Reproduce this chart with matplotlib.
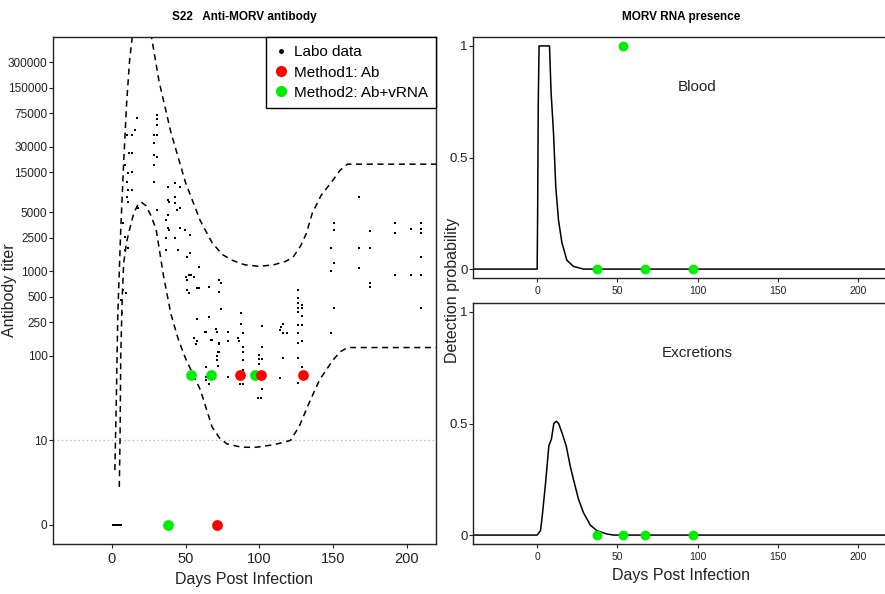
import numpy as np
import matplotlib
matplotlib.use("Agg")
import matplotlib.pyplot as plt
from matplotlib.lines import Line2D

plt.rcParams['font.family'] = ['Liberation Sans', 'DejaVu Sans']

# %%
# Antibody titers (day post infection, titer)
labo_day = [17, 30.5, 30.5, 30.5, 28.5, 30.5, 28.5, 28.5, 30.5, 28.5, 28.5, 10, 13.5, 15.5, 11.5, 13.5,
            9, 11, 13.5, 10, 11, 13.5, 10, 11, 17, 18, 7.5, 9, 9, 11, 7.5, 9.5, 7, 6,
            38, 43, 46, 38, 39, 43, 43, 46, 44, 30.5, 38, 36.5, 38, 39, 46, 49.5, 53, 36.5, 43,
            36.5, 45, 51, 53, 59, 50, 52, 56, 51, 73, 73, 66, 59, 51, 52, 126,
            168, 150.5, 150.5, 192, 203, 210, 210, 210, 192, 175.5, 148.5, 168, 175.5, 210,
            150.5, 148.5, 168, 192, 203, 210, 175.5, 175.5, 150.5, 210,
            126, 126, 129, 126, 129, 126, 129, 126, 129, 126, 126, 129, 126, 129, 126, 148.5,
            116, 116, 119, 114, 115, 116, 114,
            54, 74, 58, 74, 57.5, 66, 87.5, 87.5, 102, 64, 70.5, 71, 78.5, 78.5, 89, 57.5, 56, 57,
            67, 68, 73, 85.5, 86, 89, 102, 73, 89, 100, 100, 102, 71, 71, 64, 100, 78.5, 89.5,
            102, 99, 64, 64, 66, 87, 89, 63, 72, 72.5, 72, 89, 89, 101,
            1, 2, 3, 4, 5, 6]
labo_titer = [66000, 71000, 63700, 54000, 41000, 41000, 33000, 24000, 22700, 18300, 11500, 41000, 41000,
              47000, 25400, 25400, 18300, 14700, 15000, 11500, 9200, 9200, 7600, 6600, 5800, 5600, 3740,
              2560, 1800, 1900, 600, 555, 325, 460,
              10000, 11100, 10000, 7000, 6600, 7600, 6450, 5600, 5350, 5350, 4700, 4060, 3260, 3100, 3260,
              3100, 2700, 2500, 2500, 1800, 1800, 1480, 1660, 1130, 860, 910, 860, 790, 790, 575, 660,
              640, 600, 555, 600,
              7600, 3740, 3100, 3740, 3180, 3740, 3180, 2850, 2850, 3020, 1900, 1900, 1900, 1480,
              1260, 1020, 1100, 910, 910, 910, 730, 660, 370, 370,
              485, 425, 400, 370, 370, 330, 295, 233, 233, 187, 142, 150, 95, 74, 48, 187,
              240, 187, 187, 204, 220, 95, 55,
              910, 730, 640, 360, 275, 290, 325, 240, 226, 193, 209, 193, 193, 150, 187, 150, 163, 139,
              155, 155, 139, 163, 150, 128, 128, 112, 112, 103, 92, 92, 100, 89, 74, 80, 56, 56,
              41, 32, 56, 52, 47, 47, 47, 193, 112, 142, 77, 89, 68, 32,
              0, 0, 0, 0, 0, 0]

m1_day = [87, 101, 130, 71]
m1_titer = [60, 60, 60, 0]
m2_day = [53.5, 67, 97, 38]
m2_titer = [60, 60, 60, 0]

# envelope of the model (log10 titer)
upper_day = [2, 3, 4, 6, 8, 10, 12, 14, 17, 20, 23, 27, 32, 40, 50, 60, 68, 75, 82, 90, 100,
             110, 118, 123, 128, 132, 136, 142, 150, 155, 160, 220]
upper_log = [0.65, 1.5, 2.5, 3.5, 4.3, 5.0, 5.5, 5.8, 6.0, 6.05, 6.0, 5.76, 5.25, 4.65, 4.05, 3.6,
             3.34, 3.2, 3.13, 3.08, 3.06, 3.08, 3.12, 3.17, 3.3, 3.45, 3.69, 3.9, 4.08, 4.2, 4.27, 4.27]
lower_day = [5, 5.5, 6, 7, 8, 10, 12, 15, 18, 20, 23, 26, 30, 35, 40, 45, 50, 60, 68, 73, 78, 88,
             98, 110, 121, 127, 134, 141, 150, 155, 160, 220]
lower_log = [0.45, 1.0, 2.0, 2.7, 3.1, 3.35, 3.5, 3.7, 3.8, 3.82, 3.78, 3.68, 3.5, 2.95, 2.5, 2.2,
             1.97, 1.6, 1.16, 1.03, 0.96, 0.92, 0.92, 0.95, 1.0, 1.16, 1.45, 1.72, 1.95, 2.05, 2.1, 2.1]

titer_ticks = [0, 10, 100, 250, 500, 1000, 2500, 5000, 15000, 30000, 75000, 150000, 300000]

# detection probability curves
blood_day = [-40, 0, 0.3, 0.7, 1.2, 7.7, 8.7, 10.2, 11.6, 13.3, 15.4, 18.5, 22.6, 28.9, 220]
blood_p = [0, 0, 0.25, 0.75, 1, 1, 0.79, 0.61, 0.37, 0.22, 0.12, 0.04, 0.012, 0, 0]
excr_day = [-40, 0, 2.1, 3.1, 5.2, 7.3, 8.9, 10.4, 12.0, 13.4, 15.4, 18.1, 20.6, 22.6, 25.8, 28.9,
            33.1, 37.2, 43.4, 47.6, 220]
excr_p = [0, 0, 0.02, 0.08, 0.23, 0.40, 0.43, 0.50, 0.51, 0.50, 0.46, 0.40, 0.31, 0.25, 0.16, 0.10,
          0.045, 0.02, 0.005, 0, 0]

rna_day = [37.5, 53.5, 67, 97]
blood_obs = [0, 1, 0, 0]
excr_obs = [0, 0, 0, 0]


def tlog(v):
    v = np.asarray(v, dtype=float)
    return np.log10(np.where(v > 0, v, 1))


GREEN = "#00EE00"
RED = "#FF0000"

# %%
fig = plt.figure(figsize=(8.85, 5.94), dpi=100)
ax = fig.add_axes([53 / 885, 1 - 544 / 594, 383 / 885, 507 / 594])
ax1 = fig.add_axes([473 / 885, 1 - 278 / 594, 417 / 885, 241 / 594])
ax2 = fig.add_axes([473 / 885, 1 - 544 / 594, 417 / 885, 241 / 594])

# left panel
ax.axhline(1, color="#bbbbbb", ls=(0, (1, 2)), lw=1)
ax.plot(upper_day, upper_log, color="black", ls=(0, (4, 3)), lw=1.1)
ax.plot(lower_day, lower_log, color="black", ls=(0, (4, 3)), lw=1.1)
ax.scatter(labo_day, tlog(labo_titer), s=4, marker="s", color="black", lw=0)
ax.scatter(m2_day, tlog(m2_titer), s=60, color=GREEN, lw=0, zorder=3)
ax.scatter(m1_day, tlog(m1_titer), s=60, color=RED, lw=0, zorder=4)
ax.set_xlim(-40, 220)
ax.set_ylim(-0.225, 5.775)
ax.set_xticks([0, 50, 100, 150, 200])
ax.set_yticks(tlog(titer_ticks))
ax.set_yticklabels([str(t) for t in titer_ticks])
ax.tick_params(axis="y", labelsize=8.5, length=3, pad=1, colors="#222222")
ax.tick_params(axis="x", labelsize=10.5, length=3, pad=3, colors="#222222")
ax.set_xlabel("Days Post Infection", fontsize=11.5, color="#222222", labelpad=4)
ax.set_ylabel("Antibody titer", fontsize=11.5, color="#222222")
ax.yaxis.set_label_coords(-0.095, 0.5)
ax.set_title("S22   Anti-MORV antibody", fontsize=8.5, fontweight="bold", pad=12)

handles = [Line2D([], [], marker="o", ls="", color="black", markersize=2.5),
           Line2D([], [], marker="o", ls="", color=RED, markersize=7),
           Line2D([], [], marker="o", ls="", color=GREEN, markersize=7)]
leg = ax.legend(handles, ["Labo data", "Method1: Ab", "Method2: Ab+vRNA"], loc="upper right",
                bbox_to_anchor=(1, 1), borderaxespad=0, fancybox=False, framealpha=1,
                edgecolor="black", fontsize=11, handlelength=0.8, handletextpad=0.45,
                labelspacing=0.4, borderpad=0.55)
leg.get_frame().set_linewidth(1)

# right panels
for a, d, p, obs, name in [(ax1, blood_day, blood_p, blood_obs, "Blood"),
                           (ax2, excr_day, excr_p, excr_obs, "Excretions")]:
    a.plot(d, p, color="black", lw=1.1)
    a.scatter(rna_day, obs, s=50, color=GREEN, lw=0, zorder=3)
    a.text(100, 0.815, name, ha="center", va="center", fontsize=11, color="#222222")
    a.set_xlim(-40, 220)
    a.set_ylim(-0.04, 1.04)
    a.set_xticks([0, 50, 100, 150, 200])
    a.set_yticks([0, 0.5, 1])
    a.set_yticklabels(["0", "0.5", "1"])
    a.tick_params(axis="x", labelsize=7.5, length=3, pad=3, colors="#222222")
    a.tick_params(axis="y", labelsize=9.5, length=3, pad=1, colors="#222222")

ax1.set_title("MORV RNA presence", fontsize=8.5, fontweight="bold", pad=12)
ax2.set_xlabel("Days Post Infection", fontsize=11.5, color="#222222", labelpad=4)
fig.text(452 / 885, 1 - 290 / 594, "Detection probability", rotation=90, ha="center", va="center",
         fontsize=11.5, color="#222222")

for a in (ax, ax1, ax2):
    for s in a.spines.values():
        s.set_color("#222222")
        s.set_linewidth(1)

fig.savefig("out.png", dpi=100)
